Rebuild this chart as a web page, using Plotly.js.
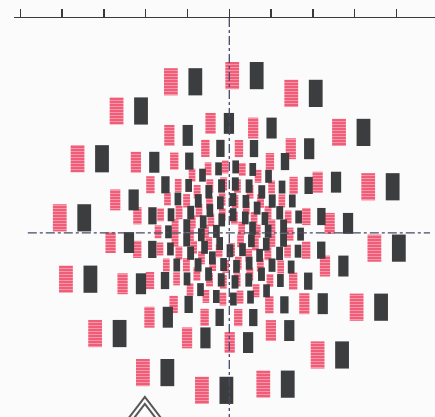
<!DOCTYPE html>
<html>
<head>
<meta charset="utf-8">
<script src="https://cdn.plot.ly/plotly-3.0.1.min.js"></script>
<style>html,body{margin:0;padding:0;background:#fbfbfb;}#chart{width:435px;height:417px;}</style>
</head>
<body>
<div id="chart"></div>
<script>
// Ring parameters (data units: 1 unit = one top-axis tick step)
const ringRadius = [3.78, 2.63, 2.06, 1.58, 1.17, 0.80, 0.44];
const ringCount  = [16, 16, 16, 24, 22, 16, 9];
const ringPhase  = [-5.5, 5, 11, -1, 8, 3, 15];          // degrees
const rectWidth  = [0.33, 0.245, 0.2, 0.16, 0.165, 0.16, 0.16];
const rectHeight = [0.65, 0.5, 0.41, 0.31, 0.32, 0.31, 0.31];
const pairGap    = [0.585, 0.44, 0.36, 0.25, 0.28, 0.26, 0.26]; // red-to-dark centre distance

// axis ticks, cross-hair lines and the double chevron mark at the bottom
const tickValues = [-5, -4, -3, -2, -1, 0, 1, 2, 3, 4];
const crossHX = [-4.82, 4.8], crossHY = [0, 0];
const crossVX = [0, 0], crossVY = [5.14, -4.4];
const chevronX = [-2.02, -2.02], chevronY = [-4.40, -4.40], chevronSize = [40, 26];

const red = {x: [], base: [], y: [], w: []};
const dark = {x: [], base: [], y: [], w: []};
ringRadius.forEach((r, i) => {
  for (let k = 0; k < ringCount[i]; k++) {
    const a = (ringPhase[i] + k * 360 / ringCount[i]) * Math.PI / 180;
    const cx = r * Math.cos(a), cy = r * Math.sin(a);
    const h = rectHeight[i], w = rectWidth[i], g = pairGap[i] / 2;
    red.x.push(cx - g); red.base.push(cy - h / 2); red.y.push(h); red.w.push(w);
    dark.x.push(cx + g); dark.base.push(cy - h / 2); dark.y.push(h); dark.w.push(w);
  }
});

const traces = [
  {type: 'scatter', mode: 'lines', x: crossHX, y: crossHY, hoverinfo: 'skip',
   line: {color: '#48486a', width: 1.3, dash: 'dashdot'}},
  {type: 'scatter', mode: 'lines', x: crossVX, y: crossVY, hoverinfo: 'skip',
   line: {color: '#48486a', width: 1.3, dash: 'dashdot'}},
  {type: 'bar', x: red.x, y: red.y, base: red.base, width: red.w, hoverinfo: 'skip',
   marker: {color: '#ef5d79', line: {width: 0},
            pattern: {shape: '-', bgcolor: '#ef5d79', fgcolor: '#f8aab8', size: 3,
                      solidity: 0.25, fillmode: 'replace'}}},
  {type: 'bar', x: dark.x, y: dark.y, base: dark.base, width: dark.w, hoverinfo: 'skip',
   marker: {color: '#3c3d3f', line: {width: 0}}},
  {type: 'scatter', mode: 'markers', x: chevronX, y: chevronY, hoverinfo: 'skip',
   marker: {symbol: 'triangle-up-open', size: chevronSize, color: '#111',
            line: {color: '#111', width: 2}}}
];

const layout = {
  width: 435, height: 417,
  margin: {l: 14, r: 0, t: 18, b: 0},
  paper_bgcolor: '#fbfbfb', plot_bgcolor: '#fbfbfb',
  showlegend: false, barmode: 'overlay',
  xaxis: {range: [-5.15, 4.92], side: 'top', showgrid: false, zeroline: false,
          showline: true, linecolor: '#3a3a3a', linewidth: 1.5,
          ticks: 'outside', ticklen: 8, tickwidth: 1.5, tickcolor: '#3a3a3a',
          tickmode: 'array', tickvals: tickValues, showticklabels: false},
  yaxis: {range: [-4.40, 5.14], showgrid: false, zeroline: false, showline: false,
          showticklabels: false, ticks: ''}
};
Plotly.newPlot('chart', traces, layout, {staticPlot: true});
</script>
</body>
</html>
